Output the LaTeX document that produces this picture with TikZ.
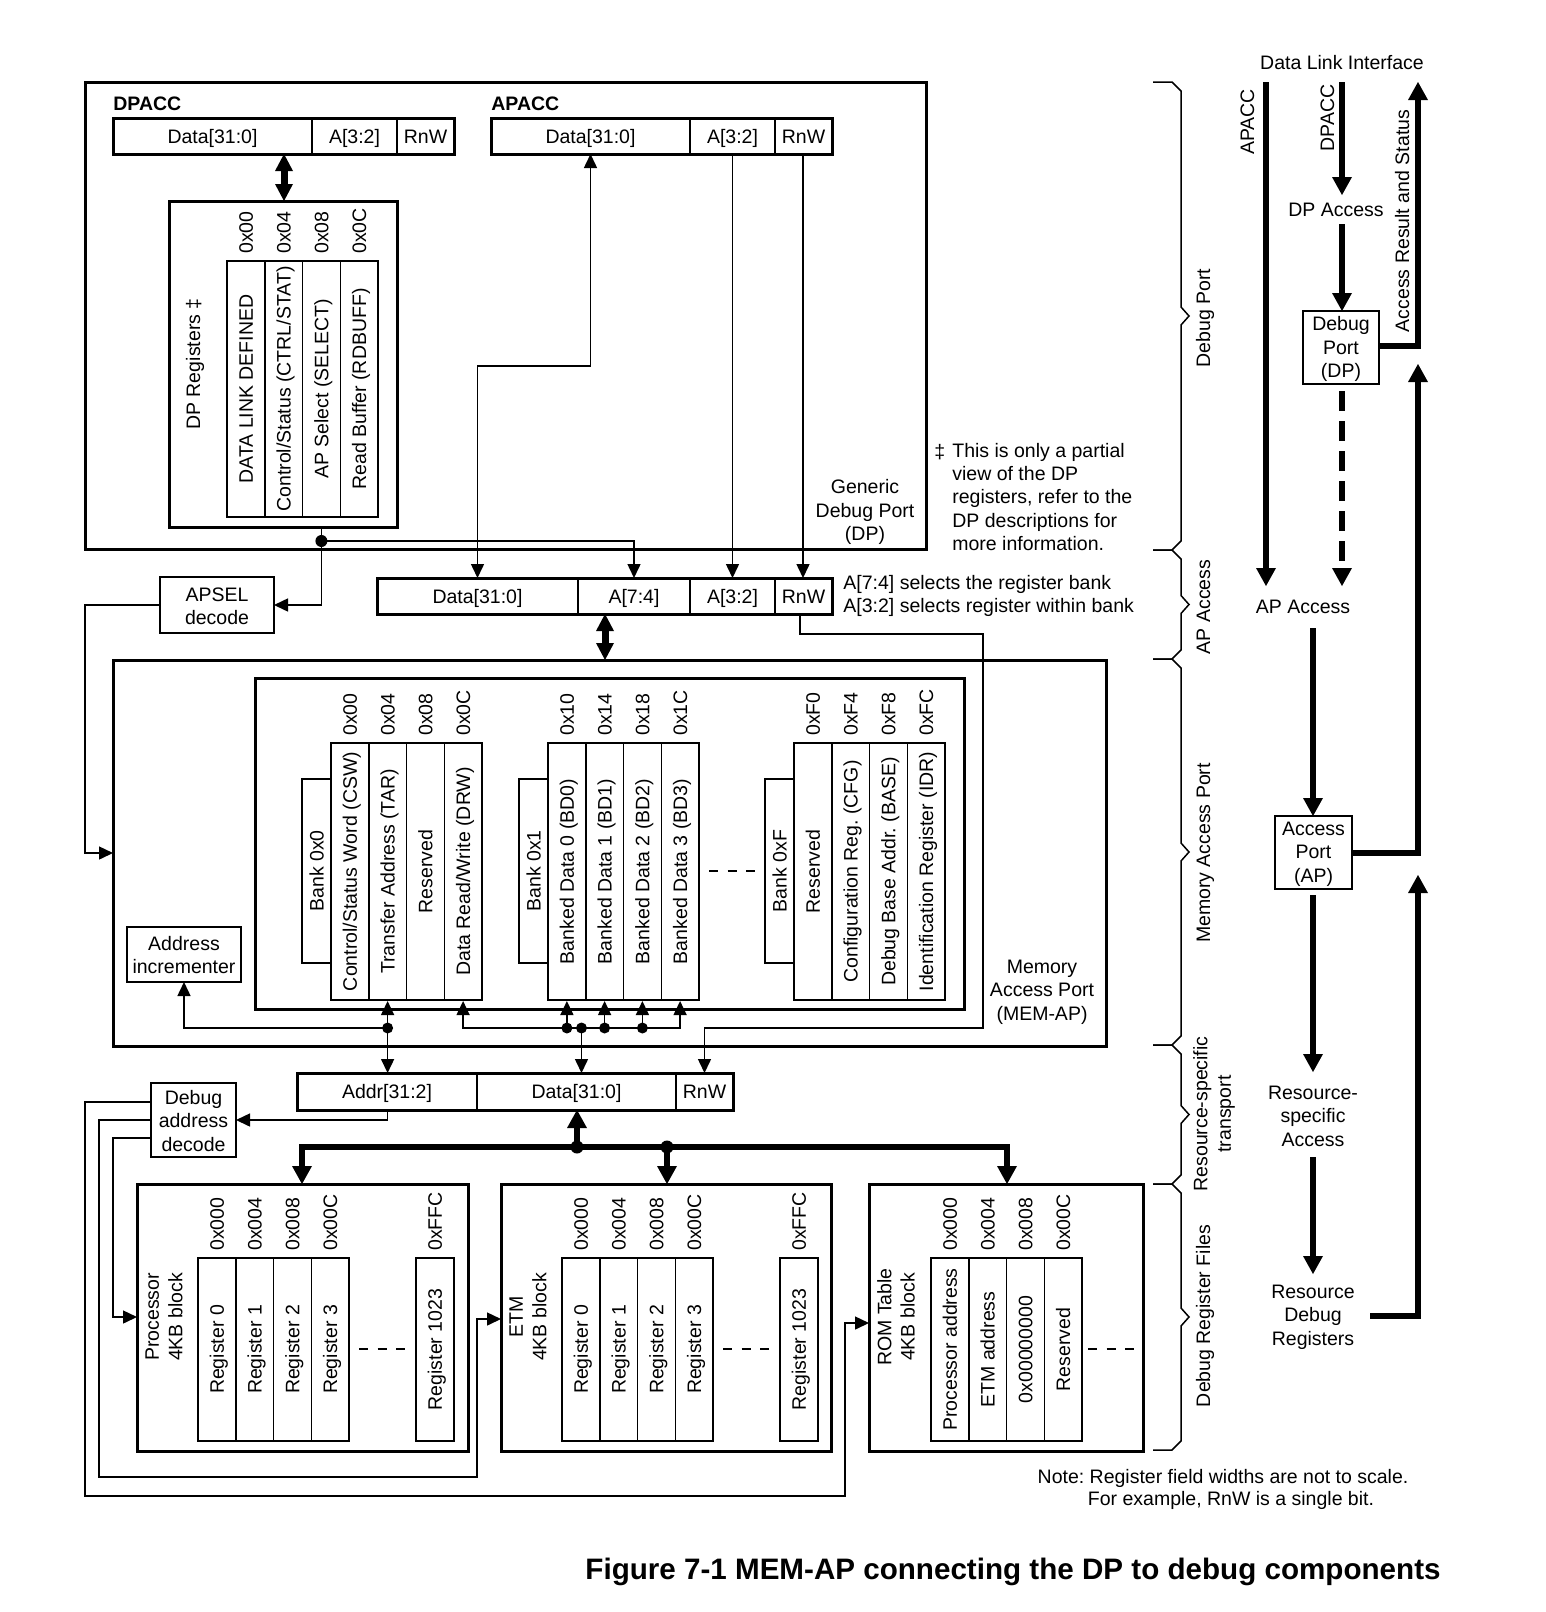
\documentclass[tikz,border=0pt]{standalone}
\usepackage{fontspec}
\setmainfont{Liberation Sans}
\usetikzlibrary{arrows.meta}
\frenchspacing
\tikzset{
  tline/.style={line width=0.75pt},
  bline/.style={line width=1.5pt},
  fat/.style={line width=3pt},
  tarr/.style={-{Triangle[length=7pt,width=6.5pt]}},
  tarrs/.style={{Triangle[length=7pt,width=6.5pt]}-{Triangle[length=7pt,width=6.5pt]}},
  farr/.style={-{Triangle[length=9pt,width=10pt,line width=0pt]}},
  farrs/.style={{Triangle[length=9pt,width=10pt,line width=0pt]}-{Triangle[length=9pt,width=10pt,line width=0pt]}},
  dblarr/.style={line width=3.5pt,{Triangle[length=8.5pt,width=9pt,line width=0pt]}-{Triangle[length=8.5pt,width=9pt,line width=0pt]}},
  txt/.style={font=\fontsize{9.75pt}{11.7pt}\selectfont, inner sep=0pt, text height=7pt, text depth=0pt},
  ml/.style={text height=, text depth=, align=center},
  bfnt/.style={font=\fontsize{9.75pt}{11.7pt}\selectfont\bfseries},
  jdot/.style={fill=black},
}
\newcommand{\regcol}[7]{%
  \draw[tline] (#1,#3) rectangle ({#1+#2},#4);
  \node[rotate=90] (#7) at ({#1+#2/2},{(#3+#4)/2}) {#6};
  \node[rotate=90,anchor=west] (#7o) at ({#1+#2/2},{#3-7}) {#5};
}
\newcommand{\brc}[2]{%
  \draw[tline] (1153,#1) -- (1172,#1) -- (1181,{#1+9}) -- (1181,{(#1+#2)/2-9}) -- (1189,{(#1+#2)/2}) -- (1181,{(#1+#2)/2+9}) -- (1181,{#2-9}) -- (1172,#2) -- (1153,#2);
}
\begin{document}
\begin{tikzpicture}[x=0.5pt,y=-0.5pt,every node/.style={txt}]
\useasboundingbox (0,0) rectangle (1546,1612);

% ================= Generic Debug Port =================
\draw[bline] (85,82) rectangle (926,549);
\node[anchor=west,bfnt] (dpacclbl) at (113,103) {DPACC};
\draw[bline] (113,118) rectangle (454,154);
\draw[tline] (312,118) -- (312,154) (397,118) -- (397,154);
\node (dpaccd) at (212.5,136) {Data[31:0]};
\node (dpacca) at (354.5,136) {A[3:2]};
\node (dpaccr) at (425.5,136) {RnW};

\node[anchor=west,bfnt] (apacclbl) at (491,103) {APACC};
\draw[bline] (491,118) rectangle (832,154);
\draw[tline] (690,118) -- (690,154) (775,118) -- (775,154);
\node (apaccd) at (590.5,136) {Data[31:0]};
\node (apacca) at (732.5,136) {A[3:2]};
\node (apaccr) at (803.5,136) {RnW};

\draw[dblarr] (284,154) -- (284,201);

\draw[bline] (169,201) rectangle (397,527);
\node[rotate=90] (dpregs) at (193,364) {DP Registers ‡};
\regcol{227}{37.75}{261}{517}{0x00}{DATA LINK DEFINED}{dpa}
\regcol{264.75}{37.75}{261}{517}{0x04}{Control/Status (CTRL/STAT)}{dpb}
\regcol{302.5}{37.75}{261}{517}{0x08}{AP Select (SELECT)}{dpc}
\regcol{340.25}{37.75}{261}{517}{0x0C}{Read Buffer (RDBUFF)}{dpd}

\node[ml] (gdp) at (865,512) {Generic\\Debug Port\\(DP)};

% connectors from APACC / DP registers
\draw[tline,tarrs] (477.5,578) -- (477.5,366) -- (590.5,366) -- (590.5,154);
\draw[tline,tarr] (732.5,154) -- (732.5,578);
\draw[tline,tarr] (803,154) -- (803,578);
\draw[tline,tarr] (321.4,527) -- (321.4,605) -- (274,605);
\draw[tline,tarr] (321.4,541) -- (634,541) -- (634,578);
\fill[jdot] (321.4,541) circle (6);

% footnote
\node[anchor=west] (ddag) at (934,451) {‡};
\node[ml,align=left,anchor=west] (fn) at (952,497) {This is only a partial\\view of the DP\\registers, refer to the\\DP descriptions for\\more information.};

% ================= AP access register =================
\draw[tline] (160,577) rectangle (274,633);
\node[ml] (apsel) at (217,606) {APSEL\\decode};
\draw[tline,tarr] (160,605) -- (85,605) -- (85,853) -- (113,853);

\draw[bline] (377,578) rectangle (832,614);
\draw[tline] (578,578) -- (578,614) (690,578) -- (690,614) (775,578) -- (775,614);
\node (apd) at (477.5,596) {Data[31:0]};
\node (apa74) at (634,596) {A[7:4]};
\node (apa32) at (732.5,596) {A[3:2]};
\node (aprnw) at (803.5,596) {RnW};
\node[ml,align=left,anchor=west] (selnote) at (843,596) {A[7:4] selects the register bank\\A[3:2] selects register within bank};

\draw[dblarr] (605,614) -- (605,660);

% ================= MEM-AP =================
\draw[bline] (113,660) rectangle (1106,1046);
\draw[bline] (255,678) rectangle (964,1009);
\draw[tline] (127,927) rectangle (241,982);
\node[ml] (inc) at (184,955) {Address\\incrementer};
\node[ml] (memaplbl) at (1042,992) {Memory\\Access Port\\(MEM-AP)};

\draw[tline] (302,779) rectangle (331,963);
\node[rotate=90] (bk0) at (316.5,871) {Bank 0x0};
\draw[tline] (519,779) rectangle (548,963);
\node[rotate=90] (bk1) at (533.5,871) {Bank 0x1};
\draw[tline] (765,779) rectangle (794,963);
\node[rotate=90] (bkf) at (779.5,871) {Bank 0xF};

\regcol{331}{37.75}{743}{1000}{0x00}{Control/Status Word (CSW)}{csw}
\regcol{368.75}{37.75}{743}{1000}{0x04}{Transfer Address (TAR)}{tar}
\regcol{406.5}{37.75}{743}{1000}{0x08}{Reserved}{rsva}
\regcol{444.25}{37.75}{743}{1000}{0x0C}{Data Read/Write (DRW)}{drw}

\regcol{548}{37.75}{743}{1000}{0x10}{Banked Data 0 (BD0)}{bdz}
\regcol{585.75}{37.75}{743}{1000}{0x14}{Banked Data 1 (BD1)}{bdo}
\regcol{623.5}{37.75}{743}{1000}{0x18}{Banked Data 2 (BD2)}{bdt}
\regcol{661.25}{37.75}{743}{1000}{0x1C}{Banked Data 3 (BD3)}{bdh}

\regcol{794}{37.75}{743}{1000}{0xF0}{Reserved}{rsvb}
\regcol{831.75}{37.75}{743}{1000}{0xF4}{Configuration Reg. (CFG)}{cfg}
\regcol{869.5}{37.75}{743}{1000}{0xF8}{Debug Base Addr. (BASE)}{base}
\regcol{907.25}{37.75}{743}{1000}{0xFC}{Identification Register (IDR)}{idr}

\draw[tline,dash pattern=on 4.5pt off 4.75pt] (709,871) -- (755,871);

% MEM-AP internal connectors
\draw[tline,tarr] (387.6,1028) -- (184,1028) -- (184,982);
\draw[tline,tarr] (387.6,1028) -- (387.6,1001);
\draw[tline,tarr] (387.6,1028) -- (387.6,1073);
\fill[jdot] (387.6,1028) circle (5.5);
\draw[tline,tarrs] (463.1,1001) -- (463.1,1028) -- (680.1,1028) -- (680.1,1001);
\foreach \xx in {566.9,604.6,642.4} {
  \draw[tline,tarr] (\xx,1028) -- (\xx,1001);
  \fill[jdot] (\xx,1028) circle (5.5);
}
\draw[tline,tarr] (581.5,1028) -- (581.5,1073);
\fill[jdot] (581.5,1028) circle (5.5);
\draw[tline,tarr] (800,614) -- (800,634) -- (983,634) -- (983,1028) -- (704.5,1028) -- (704.5,1073);

% ================= Resource-specific transport =================
\draw[bline] (297,1073) rectangle (733,1110);
\draw[tline] (477,1073) -- (477,1110) (676,1073) -- (676,1110);
\node (addr) at (387,1091.5) {Addr[31:2]};
\node (bdata) at (576.5,1091.5) {Data[31:0]};
\node (brnw) at (704.5,1091.5) {RnW};

\draw[tline] (151,1083) rectangle (236,1157);
\node[ml] (dad) at (193.5,1121) {Debug\\address\\decode};
\draw[tline,tarr] (387.6,1110) -- (387.6,1120) -- (236,1120);
\draw[tline,tarr] (151,1102) -- (85,1102) -- (85,1496) -- (845,1496) -- (845,1323) -- (869,1323);
\draw[tline,tarr] (151,1120) -- (99,1120) -- (99,1477) -- (477,1477) -- (477,1319) -- (501,1319);
\draw[tline,tarr] (151,1138) -- (113,1138) -- (113,1317) -- (137,1317);

\draw[fat,farrs] (302,1184) -- (302,1147) -- (1007,1147) -- (1007,1184);
\draw[fat,farr] (577,1147) -- (577,1110);
\draw[fat,farr] (667,1147) -- (667,1184);
\fill[jdot] (577,1147) circle (6.5);
\fill[jdot] (667,1147) circle (6.5);

% ================= Debug register files =================
% Processor
\draw[bline] (137,1184) rectangle (468,1451);
\node[ml,rotate=90] (proclbl) at (164,1317) {Processor\\4KB block};
\regcol{198}{37.75}{1258}{1441}{0x000}{Register 0}{pra}
\regcol{235.75}{37.75}{1258}{1441}{0x004}{Register 1}{prb}
\regcol{273.5}{37.75}{1258}{1441}{0x008}{Register 2}{prc}
\regcol{311.25}{37.75}{1258}{1441}{0x00C}{Register 3}{prd}
\regcol{416}{37.75}{1258}{1441}{0xFFC}{Register 1023}{pre}
\draw[tline,dash pattern=on 4.5pt off 4.75pt] (359,1349) -- (405,1349);

% ETM
\draw[bline] (501,1184) rectangle (831,1451);
\node[ml,rotate=90] (etmlbl) at (528,1317) {ETM\\4KB block};
\regcol{562}{37.75}{1258}{1441}{0x000}{Register 0}{eta}
\regcol{599.75}{37.75}{1258}{1441}{0x004}{Register 1}{etb}
\regcol{637.5}{37.75}{1258}{1441}{0x008}{Register 2}{etc}
\regcol{675.25}{37.75}{1258}{1441}{0x00C}{Register 3}{etd}
\regcol{780}{37.75}{1258}{1441}{0xFFC}{Register 1023}{ete}
\draw[tline,dash pattern=on 4.5pt off 4.75pt] (723,1349) -- (769,1349);

% ROM table
\draw[bline] (869,1184) rectangle (1143,1451);
\node[ml,rotate=90] (romlbl) at (896,1317) {ROM Table\\4KB block};
\regcol{931}{37.75}{1258}{1441}{0x000}{Processor address}{roa}
\regcol{968.75}{37.75}{1258}{1441}{0x004}{ETM address}{rob}
\regcol{1006.5}{37.75}{1258}{1441}{0x008}{0x00000000}{roc}
\regcol{1044.25}{37.75}{1258}{1441}{0x00C}{Reserved}{rod}
\draw[tline,dash pattern=on 4.5pt off 4.75pt] (1088,1349) -- (1134,1349);

% ================= Braces =================
\brc{82}{550}
\brc{550}{659}
\brc{659}{1045}
\brc{1045}{1184}
\brc{1184}{1450}
\node[rotate=90] (lbdp) at (1203,318) {Debug Port};
\node[rotate=90] (lbap) at (1203,607) {AP Access};
\node[rotate=90] (lbmem) at (1203,853) {Memory Access Port};
\node[ml,rotate=90] (lbrs) at (1214,1114) {Resource-specific\\transport};
\node[rotate=90] (lbdrf) at (1203,1316) {Debug Register Files};

% ================= Right-hand flow =================
\node (dli) at (1342,62) {Data Link Interface};
\draw[fat,farr] (1266,82) -- (1266,586);
\node[rotate=90] (apacct) at (1247,122) {APACC};
\draw[fat,farr] (1342,82) -- (1342,195);
\node[rotate=90] (dpacct) at (1327,118) {DPACC};
\node (dpacc) at (1336,209) {DP Access};
\draw[fat,farr] (1342,224) -- (1342,311);
\draw[tline] (1303,311) rectangle (1379,384);
\node[ml] (dpbox) at (1341,349) {Debug\\Port\\(DP)};
\draw[fat,farr,dash pattern=on 10pt off 5pt] (1342,391) -- (1342,586);
\draw[fat,farr] (1379,346) -- (1418,346) -- (1418,82);
\node[rotate=90] (ars) at (1402,221) {Access Result and Status};
\node (apaccess) at (1303,606) {AP Access};
\draw[fat,farr] (1313,628) -- (1313,816);
\draw[tline] (1275,816) rectangle (1352,889);
\node[ml] (apbox) at (1313.5,854) {Access\\Port\\(AP)};
\draw[fat,farr] (1352,853) -- (1418,853) -- (1418,364);
\draw[fat,farr] (1313,895) -- (1313,1072);
\node[ml] (rsa) at (1313,1116) {Resource-\\specific\\Access};
\draw[fat,farr] (1313,1157) -- (1313,1274);
\node[ml] (rdr) at (1313,1317) {Resource\\Debug\\Registers};
\draw[fat,farr] (1370,1316) -- (1418,1316) -- (1418,875);

% ================= Notes and caption =================
\node (note1) at (1223,1476) {Note: Register field widths are not to scale.};
\node (note2) at (1231,1498) {For example, RnW is a single bit.};
\node[font=\fontsize{14.8pt}{17pt}\selectfont\bfseries, text height=10.6pt] (cap) at (1013,1569) {Figure 7-1 MEM-AP connecting the DP to debug components};
\end{tikzpicture}
\end{document}
